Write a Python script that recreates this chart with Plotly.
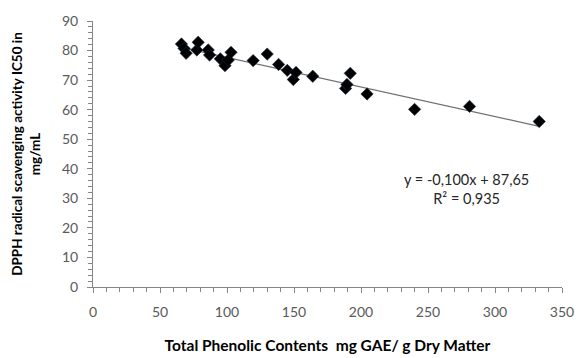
import plotly.graph_objects as go

# Data
tpc = [66, 68, 69.5, 77.5, 78.5, 86, 87, 95, 98.5, 101, 103, 119.5, 130, 138.5,
       145, 149.5, 151.5, 164, 188.5, 189.5, 192, 204.5, 240, 281, 333]
ic50 = [82.2, 80.7, 79.1, 80.2, 82.8, 80.2, 78.5, 77.2, 74.9, 76.8, 79.4, 76.6,
        78.8, 75.3, 73.3, 70.2, 72.6, 71.3, 67.2, 68.5, 72.3, 65.3, 60.1, 61.1, 56]
slope = -0.100
intercept = 87.65
r2 = 0.935
x_ticks = [0, 50, 100, 150, 200, 250, 300, 350]
y_ticks = [0, 10, 20, 30, 40, 50, 60, 70, 80, 90]

FONT = "Lato"
tick_col = "#595959"
axis_col = "#868686"

fig = go.Figure()
xl = [min(tpc), max(tpc)]
fig.add_trace(go.Scatter(
    x=xl, y=[slope * v + intercept for v in xl], mode="lines",
    line=dict(color="#707070", width=1.2), hoverinfo="skip", showlegend=False))
fig.add_trace(go.Scatter(
    x=tpc, y=ic50, mode="markers",
    marker=dict(symbol="diamond", size=9.5, color="#000000",
                line=dict(color="#1a2a40", width=0.6)),
    showlegend=False))

fig.add_annotation(
    x=279, y=33, xref="x", yref="y",
    text=f"y = {slope:.3f}x + {intercept:.2f}".replace(".", ",") +
         f"<br>R² = {r2:.3f}".replace(".", ","),
    showarrow=False, align="center",
    font=dict(family=FONT, size=14.5, color="#262626"))

fig.update_layout(
    width=576, height=358,
    margin=dict(l=93, r=14, t=21, b=71),
    paper_bgcolor="white", plot_bgcolor="white",
    font=dict(family=FONT, size=13, color=tick_col),
    xaxis=dict(
        range=[0, 350], tickvals=x_ticks, showgrid=False, zeroline=False,
        showline=True, linecolor=axis_col, linewidth=1, automargin=False,
        ticks="outside", ticklen=5, tickcolor=axis_col,
        minor=dict(dtick=10, ticks="outside", ticklen=4, tickcolor=axis_col),
        tickfont=dict(family=FONT, size=14, color=tick_col),
        ticklabelstandoff=7,
        title=dict(text="<b>Total Phenolic Contents  mg GAE/ g Dry Matter</b>",
                   font=dict(family=FONT, size=15.5, color="#000000"), standoff=21),
    ),
    yaxis=dict(
        range=[0, 90], tickvals=y_ticks, showgrid=False, zeroline=False,
        showline=True, linecolor=axis_col, linewidth=1, automargin=False,
        ticks="outside", ticklen=5, tickcolor=axis_col,
        minor=dict(dtick=2, ticks="outside", ticklen=4, tickcolor=axis_col),
        tickfont=dict(family=FONT, size=14, color=tick_col),
        ticklabelstandoff=6,
        title=dict(text="<b>DPPH radical scavenging activity IC50 in<br>mg/mL</b>",
                   font=dict(family=FONT, size=13.5, color="#000000"), standoff=18),
    ),
)

fig.write_html("out.html")
